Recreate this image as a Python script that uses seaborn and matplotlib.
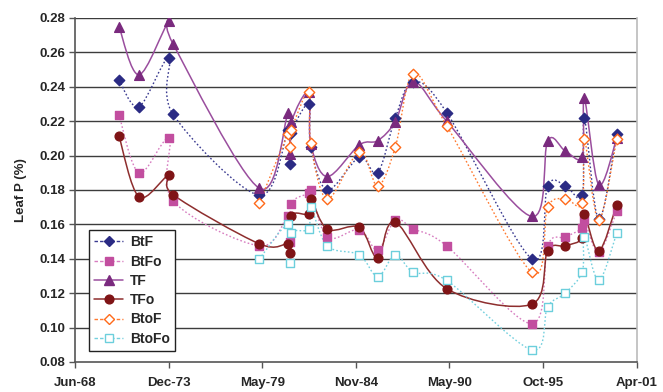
import numpy as np
import pandas as pd
import matplotlib
matplotlib.use("Agg")
import matplotlib.pyplot as plt
import matplotlib.dates as mdates
from matplotlib.path import Path
from matplotlib.patches import PathPatch
from matplotlib.lines import Line2D
import seaborn as sns

# Sampling dates
dates = ["1971-01-07", "1972-03-09", "1973-12-10", "1974-03-06", "1979-03-23",
         "1980-12-02", "1981-01-07", "1981-02-08", "1982-02-11", "1982-03-25",
         "1983-03-15", "1985-01-27", "1986-02-24", "1987-03-07", "1988-03-25",
         "1990-03-09", "1995-02-27", "1996-02-04", "1997-02-14", "1998-02-12",
         "1998-03-27", "1999-01-28", "2000-02-17"]

nan = np.nan
btf = [0.244, 0.2285, 0.257, 0.224, 0.177, 0.215, 0.195, 0.213, 0.230, 0.205,
       0.180, 0.199, 0.190, 0.222, 0.243, 0.225, 0.140, 0.1825, 0.1825, 0.177,
       0.222, 0.163, 0.2125]
btfo = [0.2236, 0.190, 0.210, 0.1737, 0.1475, 0.165, 0.150, 0.172, 0.178, 0.180,
        0.1526, 0.157, 0.1452, 0.1626, 0.1574, 0.1475, 0.1022, 0.1477, 0.1526, 0.1578,
        0.1626, 0.1439, 0.1675]
tf = [0.275, 0.247, 0.278, 0.265, 0.181, 0.2246, 0.201, 0.2198, 0.237, 0.207,
      0.1878, 0.2062, 0.2087, 0.2198, 0.243, 0.220, 0.1646, 0.2085, 0.2027, 0.1994,
      0.2334, 0.1831, 0.210]
tfo = [0.2113, 0.176, 0.1886, 0.1773, 0.1487, 0.1487, 0.1433, 0.165, 0.1661, 0.175,
       0.1572, 0.1583, 0.1404, 0.1613, nan, 0.1226, 0.1136, 0.1448, 0.1475, 0.152,
       0.166, 0.1445, 0.1713]
btof = [nan, nan, nan, nan, 0.1723, 0.2126, 0.2052, 0.2149, 0.2372, 0.2076,
        0.1748, 0.2023, 0.1824, 0.2049, 0.2475, 0.2174, 0.1322, 0.170, 0.1748, 0.1723,
        0.2097, 0.1626, 0.2095]
btofo = [nan, nan, nan, nan, 0.1398, 0.160, 0.1375, 0.155, 0.1572, 0.170,
         0.1475, 0.1423, 0.1297, 0.1423, 0.1322, 0.1274, 0.0871, 0.1121, 0.120, 0.1326,
         0.1526, 0.1274, 0.1549]

series_names = ["BtF", "BtFo", "TF", "TFo", "BtoF", "BtoFo"]
series_values = [btf, btfo, tf, tfo, btof, btofo]

tick_dates = ["1968-06-11", "1973-12-02", "1979-05-25", "1984-11-14",
              "1990-05-07", "1995-10-28", "2001-04-19"]
tick_labels = ["Jun-68", "Dec-73", "May-79", "Nov-84", "May-90", "Oct-95", "Apr-01"]

styles = {
    "BtF":   dict(marker="D", mfc="#2B2B84", mec="#2B2B84", line="#3A3A90", ls=(0, (1.2, 1.6)), ms=5.3, lw=1.0),
    "BtFo":  dict(marker="s", mfc="#C24E9F", mec="#C24E9F", line="#D77CC0", ls=(0, (1.2, 1.6)), ms=6.3, lw=1.0),
    "TF":    dict(marker="^", mfc="#7A2A7E", mec="#7A2A7E", line="#9A4E9E", ls="-", ms=7.0, lw=1.1),
    "TFo":   dict(marker="o", mfc="#7F1416", mec="#7F1416", line="#8E2E2E", ls="-", ms=6.3, lw=1.1),
    "BtoF":  dict(marker="D", mfc="white", mec="#FF6A1A", line="#FF7A30", ls=(0, (1.2, 1.6)), ms=5.3, lw=1.0),
    "BtoFo": dict(marker="s", mfc="white", mec="#6CCFDC", line="#74D0DE", ls=(0, (1.2, 1.6)), ms=6.3, lw=1.0),
}

sns.set_theme(style="white")
plt.rcParams["font.family"] = ["Liberation Sans", "DejaVu Sans"]

records = []
for name, vals in zip(series_names, series_values):
    for d, v in zip(dates, vals):
        records.append({"date": pd.Timestamp(d), "series": name, "value": v})
df = pd.DataFrame(records).dropna()
df["x"] = mdates.date2num(df["date"])

fig = plt.figure(figsize=(6.63, 3.92), dpi=100)
ax = fig.add_axes([75 / 663, 1 - 362 / 392, (636.7 - 75) / 663, (362 - 18) / 392])


def smooth_path(xs, ys):
    pts = np.column_stack([xs, ys])
    n = len(pts)
    verts = [pts[0]]
    codes = [Path.MOVETO]
    for i in range(n - 1):
        p0 = pts[i - 1] if i > 0 else pts[i]
        p1 = pts[i]
        p2 = pts[i + 1]
        p3 = pts[i + 2] if i + 2 < n else pts[i + 1]
        c1 = p1 + (p2 - p0) / 6.0
        c2 = p2 - (p3 - p1) / 6.0
        verts += [c1, c2, p2]
        codes += [Path.CURVE4] * 3
    return Path(verts, codes)


# smoothed connecting lines
for z, name in enumerate(series_names):
    st = styles[name]
    sub = df[df["series"] == name].sort_values("x")
    path = smooth_path(sub["x"].values, sub["value"].values)
    ax.add_patch(PathPatch(path, facecolor="none", edgecolor=st["line"],
                           linestyle=st["ls"], linewidth=st["lw"], zorder=2 + z * 0.1))

# markers
for z, name in enumerate(series_names):
    st = styles[name]
    sub = df[df["series"] == name]
    sns.scatterplot(data=sub, x="x", y="value", ax=ax, marker=st["marker"],
                    s=(st["ms"] ** 2), color=st["mfc"], edgecolor=st["mec"],
                    linewidth=1.0, zorder=4 + z * 0.1, legend=False)

# axes and grid
ax.set_ylim(0.08, 0.28)
ax.set_yticks(np.arange(0.08, 0.2801, 0.02))
ax.yaxis.set_major_formatter(matplotlib.ticker.FormatStrFormatter("%.2f"))
tick_x = mdates.date2num(pd.to_datetime(tick_dates))
ax.set_xlim(tick_x[0], tick_x[-1])
ax.set_xticks(tick_x)
ax.set_xticklabels(tick_labels)
for yv in np.arange(0.10, 0.2801, 0.02):
    ax.axhline(yv, color="#3C3C3C", linewidth=1.0, zorder=1)

ax.set_xlabel("")
ax.set_ylabel("Leaf P (%)", fontsize=9.5, fontweight="bold", labelpad=9)
ax.tick_params(axis="both", which="major", labelsize=9.5, length=4, width=1.0,
               direction="out", color="#555555", pad=3)
ax.tick_params(axis="x", pad=7)
for lab in ax.get_xticklabels() + ax.get_yticklabels():
    lab.set_fontweight("bold")

for side in ["left", "bottom"]:
    ax.spines[side].set_color("#555555")
    ax.spines[side].set_linewidth(1.2)
ax.spines["top"].set_visible(False)
ax.spines["right"].set_color("#BBBBBB")
ax.spines["right"].set_linewidth(1.2)
ax.xaxis.set_ticks_position("bottom")
ax.yaxis.set_ticks_position("left")

handles = []
for name in series_names:
    st = styles[name]
    handles.append(Line2D([0], [0], color=st["line"], linestyle=st["ls"] if st["ls"] == "-" else (0, (2.5, 1.5)),
                          linewidth=st["lw"], marker=st["marker"], markersize=st["ms"],
                          markerfacecolor=st["mfc"], markeredgecolor=st["mec"]))
leg = ax.legend(handles, series_names, loc="upper left",
                bbox_to_anchor=((89 - 75) / 561.7, (362 - 230) / 344),
                frameon=True, fancybox=False, edgecolor="#222222", framealpha=1,
                prop={"weight": "bold", "size": 10}, handlelength=2.1,
                handletextpad=0.45, labelspacing=0.38, borderpad=0.38,
                borderaxespad=0)
leg.get_frame().set_linewidth(1.0)
leg.set_zorder(10)

fig.savefig("out.png", dpi=100, facecolor="white")
